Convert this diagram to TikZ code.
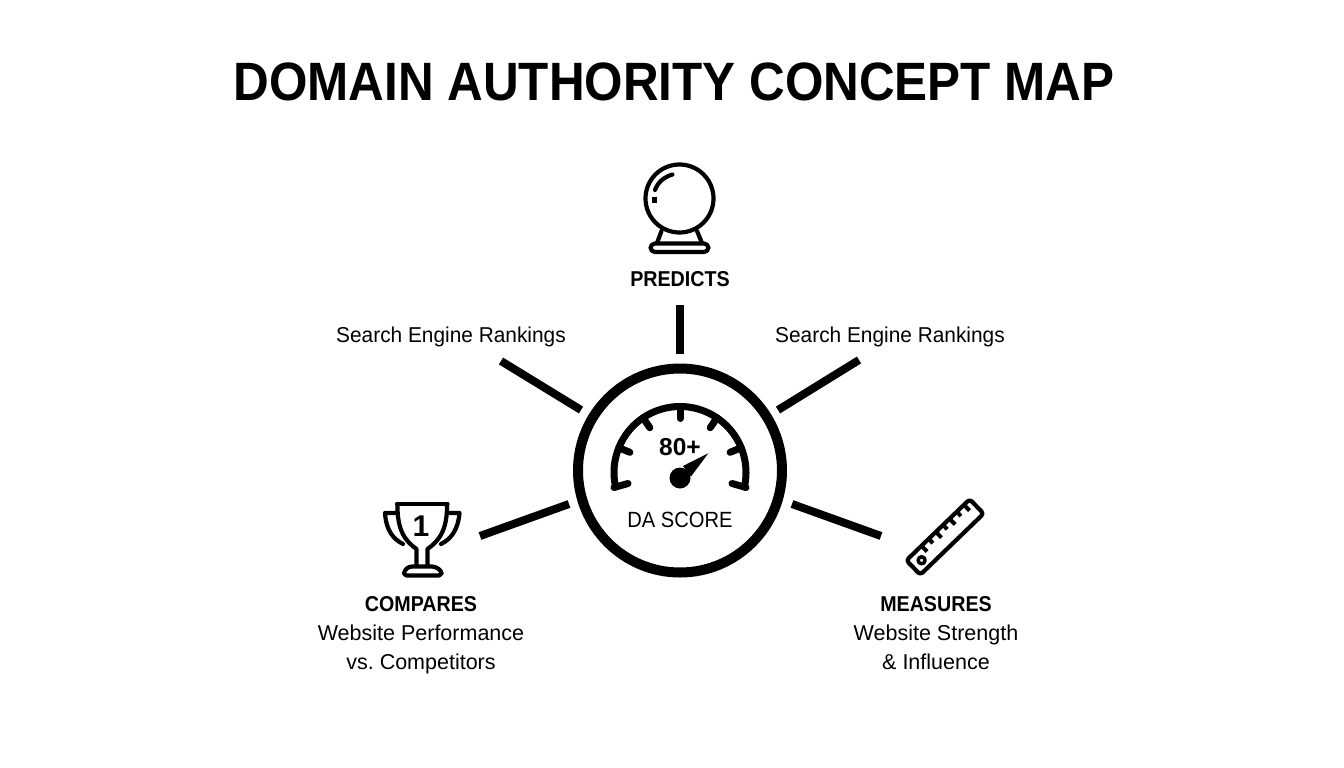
\documentclass[tikz,border=0pt]{standalone}
\usepackage{fontspec}
\setmainfont{Liberation Sans}
\newfontfamily\tightfont[FakeStretch=0.915]{Liberation Sans}
\newfontfamily\rankfont[FakeStretch=0.97]{Liberation Sans}
\usepackage{tikz}
\begin{document}
\begin{tikzpicture}[
	x=1pt, y=-1pt,
	spoke/.style = {line width=8pt},
	icon/.style = {line width=4.2pt, line join=round, line cap=round},
	gaugeline/.style = {line width=7pt, line cap=round},
	caption/.style = {align=center, inner sep=0pt, font=\fontsize{21.5}{29}\selectfont},
	rank/.style = {inner sep=0pt, font=\rankfont\fontsize{21.5}{29}\selectfont}]
	\useasboundingbox (0,0) rectangle (1344,768);
	\node[inner sep=0pt, font=\tightfont\fontsize{54}{60}\selectfont\bfseries] (title) at (674,82) {DOMAIN AUTHORITY CONCEPT MAP};
	\node[circle, draw, line width=10pt, minimum size=204pt, inner sep=0pt] (dial) at (680,470.5) {};
	\node[inner sep=0pt, font=\fontsize{24.5}{26}\selectfont\bfseries] (score) at (680,447) {80+};
	\node[inner sep=0pt, font=\tightfont\fontsize{22}{26}\selectfont] (dalabel) at (680,520) {DA SCORE};
	\node[inner sep=0pt, font=\tightfont\fontsize{21.5}{29}\selectfont\bfseries] (predicts) at (680,279) {PREDICTS};
	\node[rank] (rankleft) at (451,337) {Search Engine Rankings};
	\node[rank] (rankright) at (890,337) {Search Engine Rankings};
	\node[caption] (compares) at (421,635) {{\tightfont\bfseries COMPARES}\\Website Performance\\vs.\ Competitors};
	\node[caption] (measures) at (936,633) {{\tightfont\bfseries MEASURES}\\Website Strength\\\& Influence};
	\node[inner sep=0pt, font=\fontsize{30}{32}\selectfont\bfseries] (rankone) at (421,526) {1};
	\coordinate (topA) at (680,305);
	\coordinate (topB) at (680,354);
	\coordinate (leftA) at (501,361);
	\coordinate (leftB) at (581,410);
	\coordinate (rightA) at (859,360);
	\coordinate (rightB) at (778,410);
	\coordinate (lowleftA) at (480,536);
	\coordinate (lowleftB) at (569,504);
	\coordinate (lowrightA) at (881,536);
	\coordinate (lowrightB) at (792,504);
	\draw[spoke] (topA) -- (topB);
	\draw[spoke] (leftA) -- (leftB);
	\draw[spoke] (rightA) -- (rightB);
	\draw[spoke] (lowleftA) -- (lowleftB);
	\draw[spoke] (lowrightA) -- (lowrightB);
	\begin{scope}[shift={(680,472.5)}]
		\draw[line width=7pt] (-193:66) arc[start angle=-193, end angle=13, radius=66];
		\foreach \a in {22,56,90,124,158} {
			\draw[gaugeline] (-\a:66) -- (-\a:54);
		}
		\draw[gaugeline] (-66,15) -- (-52,11);
		\draw[gaugeline] (66,15) -- (52,11);
		\fill (0,5.5) circle (10.5);
		\fill (28.3,-19.2) -- (11,4) -- (3,-6.5) -- cycle;
	\end{scope}
	\begin{scope}[icon]
		\draw (679.5,198.5) circle (34);
		\draw (655,190) .. controls (658,182) and (664,177) .. (672.5,174.5);
		\draw[line width=5pt, line cap=butt] (654,196.5) -- (654,203);
		\draw (661.5,231) -- (657,243);
		\draw (697,231) -- (702,243);
		\draw[rounded corners=4.5pt] (650.5,243.5) rectangle (708.5,252);
		\draw (397,504) -- (447.5,504);
		\draw (397.5,504) .. controls (397,530) and (405,541) .. (416.5,549) -- (416.5,566);
		\draw (447,504) .. controls (447.5,530) and (439,541) .. (427.5,549) -- (427.5,566);
		\draw (397,513) -- (385,513) .. controls (386,530) and (393,539) .. (403,544);
		\draw (447.5,513) -- (459.5,513) .. controls (458,530) and (451,539) .. (441,544);
		\draw[rounded corners=3pt] (404,575.5) -- (404,571) -- (409,566.5) -- (435,566.5) -- (441.5,571) -- (441.5,575.5) -- cycle;
	\end{scope}
	\begin{scope}[icon, shift={(945,537)}, rotate=44]
		\draw[rounded corners=3pt] (-44,-10) rectangle (44,10);
		\draw[line width=3.5pt] (-33,0.5) circle (3.5);
		\foreach \t/\d in {-23/-2,-13/-4,-3/-2,7/-4,16/-2,26/-4,36/-2} {
			\draw[line width=4pt, line cap=butt] (\t,-10) -- (\t,\d);
		}
	\end{scope}
\end{tikzpicture}
\end{document}
